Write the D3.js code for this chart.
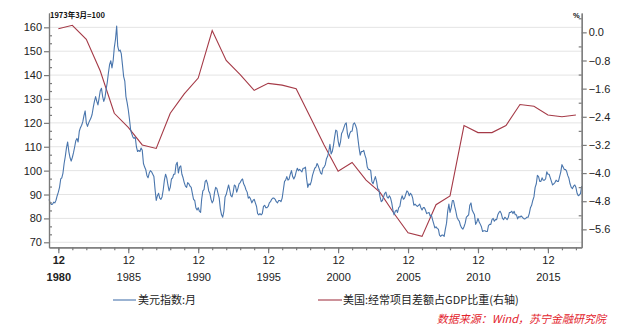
<!DOCTYPE html>
<html>
<head>
<meta charset="utf-8">
<script src="https://cdn.jsdelivr.net/npm/d3@7"></script>
<style>
  html, body { margin: 0; padding: 0; background: #fff; }
  svg { display: block; }
  .tick text { font-family: "Liberation Sans", Arial, sans-serif; }
</style>
</head>
<body>
<svg id="chart" width="627" height="329"></svg>
<script>
// Monthly US dollar index (March 1973 = 100), April 1980 – May 2018
const dollarStart = [1980, 3]; // year, month index (0 = Jan)
const dollarIndex = [
  // 1980 Apr–Dec
  88, 86.5, 85.8, 85.9, 86.8, 86.5, 87.6, 89.5, 91,
  // 1981
  93, 96.5, 97, 99, 103, 106, 109.5, 112, 108, 105.5, 104, 105.5,
  // 1982
  107.5, 110, 112.5, 113.5, 112, 116.5, 118, 119, 120.5, 123, 125, 120,
  // 1983
  118.5, 120, 121, 122, 123.5, 126.5, 129, 131, 129, 127.5, 130.5, 133.5,
  // 1984
  134.5, 131, 129, 130.5, 134, 137, 141, 144.5, 146, 143, 146, 151.5,
  // 1985
  155, 160.5, 152, 150, 150.5, 149, 144.5, 139.5, 137.5, 131, 128.5, 125.5,
  // 1986
  121.5, 117, 115.5, 114, 113.5, 114, 110, 108, 108.5, 108, 109.5, 108.5,
  // 1987
  103, 101.5, 100.5, 98, 97, 99, 100, 99.5, 98.5, 97.5, 92, 87.5,
  // 1988
  89.5, 90.5, 88.5, 88, 89, 92, 96, 98.5, 97, 94, 91.5, 93,
  // 1989
  96.5, 97, 98.5, 98.5, 102.5, 103.5, 99, 101.5, 102, 98.5, 97, 95,
  // 1990
  93.5, 93, 95, 94.5, 93.5, 93, 90.5, 88, 87.5, 84.5, 83.5, 84.5,
  // 1991
  83, 82.5, 88, 91.5, 92, 95.5, 96, 94.5, 91.5, 90.5, 88, 86.5,
  // 1992
  87.5, 91, 93, 92.5, 90.5, 88.5, 84, 81.5, 80.5, 83, 89, 90,
  // 1993
  92, 94, 92, 89.5, 89, 91, 94, 93.5, 91, 92.5, 94.5, 95,
  // 1994
  96, 96.5, 94.5, 93.5, 92, 91, 88.5, 89, 88, 86.5, 87.5, 88,
  // 1995
  86.5, 85, 82, 81.5, 82, 81.5, 82, 85, 85.5, 84.5, 84.5, 85,
  // 1996
  86.5, 87, 88, 88.5, 88.5, 88, 87, 86.5, 87.5, 87.5, 87, 88.5,
  // 1997
  92, 95.5, 96, 97.5, 96, 96.5, 98.5, 100, 97.5, 96.5, 97.5, 99.5,
  // 1998
  101, 100, 100.5, 100, 99.5, 101, 101, 101.5, 96.5, 93, 94.5, 94,
  // 1999
  95.5, 98, 99.5, 101, 101.5, 103, 102, 100.5, 99, 98.5, 101, 101.5,
  // 2000
  102.5, 105, 106, 108, 111, 107, 108, 110.5, 114, 117, 116.5, 112.5,
  // 2001
  110, 112, 115.5, 116.5, 118, 119.5, 120, 115.5, 113.5, 115.5, 116.5, 116.5,
  // 2002
  119.5, 120, 119, 117.5, 113.5, 109.5, 106.5, 108, 108, 108.5, 106.5, 105,
  // 2003
  101.5, 100.5, 100.5, 100, 95.5, 94.5, 96, 97.5, 95.5, 92.5, 92, 89,
  // 2004
  87, 87.5, 89, 90.5, 91, 89, 88.5, 89.5, 88.5, 86.5, 83.5, 81.5,
  // 2005
  83, 83.5, 82.5, 84.5, 85, 88, 89.5, 88, 88.5, 90, 91.5, 91,
  // 2006
  89.5, 90.5, 90, 88.5, 85.5, 86, 85.5, 85, 85.5, 86, 84.5, 83.5,
  // 2007
  84.5, 84.5, 83.5, 82, 82.3, 82.5, 81, 81.5, 79.5, 77.8, 76, 76.5,
  // 2008
  75.8, 75.5, 73, 72.5, 73, 73, 72.5, 75.5, 78, 83, 86, 82.5,
  // 2009
  84.5, 87.5, 87.5, 85, 83, 80.5, 79.5, 78.8, 77, 76, 75.5, 76.5,
  // 2010
  78, 80.5, 81, 81.5, 85.5, 86.5, 83.5, 82.5, 81.5, 77.5, 78.5, 80,
  // 2011
  78.5, 77.5, 76.5, 74.5, 74.8, 74.8, 74.5, 74.5, 77, 77.5, 77.5, 79.5,
  // 2012
  80, 78.8, 79.5, 79.5, 81.5, 82.5, 83, 82, 80, 79.5, 80.5, 80,
  // 2013
  79.5, 80.5, 82.5, 82.5, 83, 82, 83, 81.5, 81.5, 79.8, 80.8, 80.5,
  // 2014
  81, 80.5, 80, 79.8, 80, 80.5, 80.5, 82, 84.5, 85.5, 87.5, 89,
  // 2015
  93, 94.5, 98, 97.5, 95.5, 95.5, 97, 96, 96, 96.5, 99.5, 98.5,
  // 2016
  98.5, 97, 95.5, 94, 94.5, 95, 96, 95.5, 95.5, 97.5, 99.5, 102.5,
  // 2017
  101.5, 100.5, 100.5, 99.8, 98, 96.8, 94.5, 93, 92.5, 93.5, 94, 93,
  // 2018 Jan–May
  90.5, 89.5, 89.8, 90.5, 93.5
];

// US current account balance as % of GDP, annual (plotted at December)
const caYears = [
  1980, 1981, 1982, 1983, 1984, 1985, 1986, 1987, 1988, 1989,
  1990, 1991, 1992, 1993, 1994, 1995, 1996, 1997, 1998, 1999,
  2000, 2001, 2002, 2003, 2004, 2005, 2006, 2007, 2008, 2009,
  2010, 2011, 2012, 2013, 2014, 2015, 2016, 2017
];
const caShare = [
  0.1, 0.2, -0.2, -1.1, -2.3, -2.7, -3.2, -3.3, -2.3, -1.75,
  -1.3, 0.05, -0.8, -1.2, -1.65, -1.45, -1.5, -1.6, -2.4, -3.2,
  -3.95, -3.7, -4.2, -4.55, -5.15, -5.7, -5.8, -4.9, -4.65, -2.65,
  -2.85, -2.85, -2.65, -2.05, -2.1, -2.35, -2.4, -2.35
];

// Axis ticks
const leftTicks = [70, 80, 90, 100, 110, 120, 130, 140, 150, 160];
const rightTicks = [0.0, -0.8, -1.6, -2.4, -3.2, -4.0, -4.8, -5.6];
const labelYears = [1980, 1985, 1990, 1995, 2000, 2005, 2010, 2015];
const tickYears = d3.range(1980, 2018);

const leftTitle = "1973年3月=100";
const rightTitle = "%";
const seriesNames = ["美元指数:月", "美国:经常项目差额占GDP比重(右轴)"];
const sourceNote = "数据来源：Wind，苏宁金融研究院";

const colors = { dollar: "#4a76ad", ca: "#a53a47", axis: "#7a7a7a", grid: "#e4e4e4", text: "#222" };

const svg = d3.select("#chart");
svg.append("rect").attr("width", 627).attr("height", 329).attr("fill", "#fff");

const plot = { left: 49, right: 581.7, top: 13, bottom: 247.3 };

const x = d3.scaleTime()
  .domain([new Date(1980, 3, 1), new Date(2018, 4, 1)])
  .range([plot.left, plot.right]);
const yL = d3.scaleLinear().domain([67.9, 166]).range([plot.bottom, plot.top]);
const yR = d3.scaleLinear().domain([-6.11, 0.55]).range([plot.bottom, plot.top]);

// Gridlines at left-axis major ticks
svg.append("g").selectAll("line").data(leftTicks).join("line")
  .attr("x1", plot.left).attr("x2", plot.right)
  .attr("y1", d => yL(d)).attr("y2", d => yL(d))
  .attr("stroke", colors.grid).attr("stroke-width", 1);

// Series
const dollarData = dollarIndex.map((v, i) => ({
  date: new Date(dollarStart[0], dollarStart[1] + i, 1), value: v
}));
const caData = caYears.map((yr, i) => ({ date: new Date(yr, 11, 1), value: caShare[i] }));

svg.append("path").datum(caData)
  .attr("fill", "none").attr("stroke", colors.ca).attr("stroke-width", 1.1)
  .attr("d", d3.line().x(d => x(d.date)).y(d => yR(d.value)));

svg.append("path").datum(dollarData)
  .attr("fill", "none").attr("stroke", colors.dollar).attr("stroke-width", 1.1)
  .attr("stroke-linejoin", "round")
  .attr("d", d3.line().x(d => x(d.date)).y(d => yL(d.value)));

// Axes
function styleAxis(g) {
  g.selectAll(".domain").attr("stroke", colors.axis).attr("stroke-width", 1.2);
  g.selectAll(".tick line").attr("stroke", colors.axis).attr("stroke-width", 1.2);
  g.selectAll(".tick text").attr("fill", colors.text).attr("font-size", "10.5px");
}

// Left axis: major outward, minor inward
const leftMinor = d3.range(70, 163, 10 / 3).filter(v => Math.abs(Math.round(v) - v) > 0.1 || Math.round(v) % 10 !== 0);
svg.append("g").attr("transform", `translate(${plot.left},0)`)
  .call(d3.axisLeft(yL).tickValues(leftMinor).tickSizeInner(-3).tickSizeOuter(0).tickFormat(""))
  .call(styleAxis);
svg.append("g").attr("transform", `translate(${plot.left},0)`)
  .call(d3.axisLeft(yL).tickValues(leftTicks).tickSizeInner(5).tickSizeOuter(0).tickPadding(2).tickFormat(d3.format("d")))
  .call(styleAxis)
  .call(g => g.selectAll(".tick text").attr("font-size", "11px"));

// Right axis
const rightMinor = d3.range(0.4, -6.0, -0.8);
svg.append("g").attr("transform", `translate(${plot.right},0)`)
  .call(d3.axisRight(yR).tickValues(rightMinor).tickSizeInner(-3).tickSizeOuter(0).tickFormat(""))
  .call(styleAxis);
svg.append("g").attr("transform", `translate(${plot.right},0)`)
  .call(d3.axisRight(yR).tickValues(rightTicks).tickSizeInner(5).tickSizeOuter(0).tickPadding(2).tickFormat(d3.format(".1f")))
  .call(styleAxis)
  .call(g => g.selectAll(".tick text").attr("font-size", "11px"));

// Bottom axis: yearly ticks at December, longer at labelled years
svg.append("g").attr("transform", `translate(0,${plot.bottom})`)
  .call(d3.axisBottom(x).tickValues(tickYears.map(yr => new Date(yr, 11, 1)))
    .tickSizeInner(3).tickSizeOuter(0).tickFormat(""))
  .call(styleAxis);
const xMajor = svg.append("g").attr("transform", `translate(0,${plot.bottom})`)
  .call(d3.axisBottom(x).tickValues(labelYears.map(yr => new Date(yr, 11, 1)))
    .tickSizeInner(6).tickSizeOuter(0).tickFormat(""))
  .call(styleAxis);
xMajor.selectAll(".tick").each(function(d, i) {
  const t = d3.select(this);
  const weight = i === 0 ? "bold" : "normal";
  t.append("text").attr("y", 17).attr("text-anchor", "middle")
    .attr("fill", colors.text).attr("font-size", "11px").attr("font-weight", weight)
    .text("12");
  t.append("text").attr("y", 34).attr("text-anchor", "middle")
    .attr("fill", colors.text).attr("font-size", "11px").attr("font-weight", weight)
    .text(labelYears[i]);
});

// Axis titles
svg.append("text").attr("x", 50).attr("y", 17.5)
  .attr("font-family", "'Noto Sans CJK SC', 'Liberation Sans', sans-serif")
  .attr("font-size", "7.5px").attr("font-weight", "bold").attr("fill", "#111")
  .text(leftTitle);
svg.append("text").attr("x", 573).attr("y", 17.5)
  .attr("font-family", "'Liberation Sans', Arial, sans-serif")
  .attr("font-size", "7.5px").attr("font-weight", "bold").attr("fill", "#111")
  .text(rightTitle);

// Legend
const legend = [
  { name: seriesNames[0], color: colors.dollar, x0: 113, x1: 136, tx: 138 },
  { name: seriesNames[1], color: colors.ca, x0: 318, x1: 342, tx: 343 }
];
const lg = svg.append("g");
legend.forEach(item => {
  lg.append("line").attr("x1", item.x0).attr("x2", item.x1).attr("y1", 300).attr("y2", 300)
    .attr("stroke", item.color).attr("stroke-width", 1.1);
  lg.append("text").attr("x", item.tx).attr("y", 304)
    .attr("font-family", "'Noto Sans CJK SC', sans-serif")
    .attr("font-size", "11px").attr("fill", colors.text)
    .text(item.name);
});

// Source note
svg.append("text").attr("x", 606).attr("y", 323).attr("text-anchor", "end")
  .attr("font-family", "'Noto Sans CJK SC', sans-serif")
  .attr("font-size", "11px").attr("font-style", "italic").attr("fill", "#e3232c")
  .text(sourceNote);
</script>
</body>
</html>
